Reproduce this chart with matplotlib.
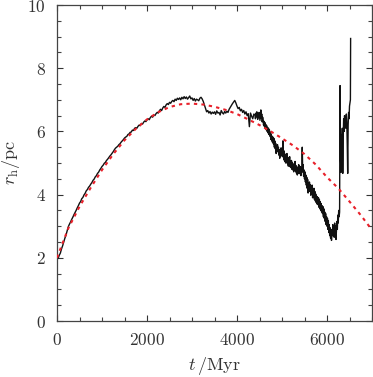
import numpy as np
import matplotlib
matplotlib.use("Agg")
import matplotlib.pyplot as plt
from matplotlib.ticker import MultipleLocator

plt.rcParams['font.family'] = 'serif'
plt.rcParams['font.serif'] = ['cmr10', 'DejaVu Serif']
plt.rcParams['mathtext.fontset'] = 'cm'
plt.rcParams['axes.formatter.use_mathtext'] = True

# ---- data: simulation (black, noisy), every 25 Myr from 0 to 4375 ----
sim_step = 25
sim_r = [
    2.02, 1.98, 2.08, 2.15, 2.28, 2.38, 2.50, 2.62, 2.72, 2.85,
    2.98, 3.06, 3.13, 3.21, 3.28, 3.36, 3.43, 3.50, 3.58, 3.65,
    3.73, 3.78, 3.87, 3.91, 3.99, 4.04, 4.12, 4.16, 4.23, 4.27,
    4.33, 4.38, 4.45, 4.49, 4.56, 4.60, 4.67, 4.71, 4.78, 4.83,
    4.89, 4.93, 4.99, 5.02, 5.08, 5.12, 5.17, 5.22, 5.26, 5.31,
    5.36, 5.42, 5.47, 5.50, 5.53, 5.58, 5.61, 5.66, 5.70, 5.74,
    5.79, 5.82, 5.84, 5.90, 5.92, 5.97, 5.98, 6.04, 6.03, 6.10,
    6.12, 6.10, 6.16, 6.20, 6.18, 6.25, 6.23, 6.29, 6.33, 6.31,
    6.36, 6.40, 6.37, 6.44, 6.48, 6.45, 6.52, 6.50, 6.56, 6.60,
    6.58, 6.65, 6.70, 6.66, 6.74, 6.79, 6.76, 6.84, 6.88, 6.85,
    6.92, 6.89, 6.95, 6.98, 6.94, 7.02, 6.98, 7.05, 7.01, 7.06,
    7.00, 7.08, 7.03, 7.10, 7.04, 7.09, 7.02, 7.07, 7.12, 7.03,
    7.06, 6.98, 7.04, 6.96, 7.02, 7.00, 6.97, 7.05, 7.08, 7.03,
    6.95, 6.84, 6.72, 6.62, 6.66, 6.58, 6.63, 6.55, 6.61, 6.57,
    6.62, 6.54, 6.65, 6.58, 6.60, 6.52, 6.66, 6.59, 6.55, 6.63,
    6.58, 6.64, 6.60, 6.70, 6.76, 6.82, 6.88, 6.93, 6.98, 6.90,
    6.80, 6.72, 6.76, 6.65, 6.70, 6.60, 6.66, 6.55, 6.62, 6.50,
    6.56, 6.15, 6.58, 6.48, 6.40, 6.55,
]
# every 10 Myr from 4400 to 6280 (strongly fluctuating phase)
fine_start = 4400
fine_step = 10
fine_r = [
    6.52, 6.40, 6.58, 6.46, 6.62, 6.50, 6.38, 6.55, 6.44, 6.60,
    6.48, 6.35, 6.52, 6.68, 6.42, 6.55, 6.30, 6.45, 6.36, 6.20,
    6.32, 6.15, 6.28, 6.10, 6.22, 6.05, 6.18, 6.00, 6.12, 5.95,
    6.10, 5.90, 6.05, 5.85, 5.98, 5.75, 5.92, 5.70, 5.85, 5.65,
    5.82, 5.60, 5.78, 5.50, 5.70, 5.45, 5.62, 5.30, 5.55, 5.40,
    5.58, 5.35, 5.50, 5.25, 5.42, 5.15, 5.40, 5.22, 5.48, 5.28,
    5.45, 5.20, 5.70, 5.30, 5.10, 5.38, 5.05, 5.28, 5.00, 5.22,
    5.08, 5.30, 4.98, 5.18, 4.90, 5.12, 4.95, 5.20, 4.88, 5.05,
    4.85, 5.08, 4.80, 5.02, 4.78, 4.95, 4.72, 4.98, 4.82, 5.05,
    4.75, 4.92, 4.68, 4.88, 4.62, 4.85, 4.70, 4.95, 4.66, 4.90,
    4.72, 4.88, 4.60, 4.82, 4.70, 5.50, 4.75, 4.95, 4.58, 4.78,
    4.50, 4.72, 4.40, 4.62, 4.30, 4.55, 4.20, 4.48, 4.05, 4.38,
    4.15, 4.40, 4.10, 4.32, 3.98, 4.25, 4.05, 4.30, 3.90, 4.18,
    3.95, 4.20, 3.85, 4.10, 3.80, 4.02, 3.75, 3.95, 3.70, 3.92,
    3.68, 3.90, 3.60, 3.85, 3.55, 3.78, 3.50, 3.72, 3.45, 3.65,
    3.40, 3.62, 3.30, 3.55, 3.25, 3.45, 3.15, 3.40, 3.05, 3.30,
    3.00, 3.25, 2.90, 3.18, 2.80, 3.05, 2.70, 2.95, 2.62, 2.90,
    2.55, 2.85, 2.70, 3.05, 2.75, 2.95, 2.65, 3.10, 2.80, 3.00,
    2.58, 2.85, 3.15, 2.90, 3.35, 3.10, 3.50, 3.30, 3.45,
]
# final, rapidly fluctuating part (irregular times)
late_t = [6290, 6300, 6310, 6320, 6330, 6340, 6350, 6360, 6370, 6380,
          6390, 6400, 6410, 6420, 6430, 6440, 6450, 6460, 6470, 6480,
          6490, 6500, 6510, 6520, 6525]
late_r = [7.45, 5.20, 4.70, 5.90, 5.30, 6.10, 4.67, 5.80, 6.40, 6.00,
          6.50, 6.20, 6.45, 6.10, 6.55, 6.30, 5.60, 4.67, 6.20, 6.60,
          6.40, 6.80, 6.90, 7.00, 8.94]

# ---- data: model (red dashed) ----
model_t = [0, 250, 500, 750, 1000, 1250, 1500, 1750, 2000, 2250, 2500, 2750,
           3000, 3250, 3500, 3750, 4000, 4250, 4500, 4750, 5000, 5250, 5500,
           5750, 6000, 6250, 6500, 6750, 7000]
model_r = [2.0, 2.93, 3.62, 4.22, 4.78, 5.28, 5.72, 6.08, 6.38, 6.61, 6.77,
           6.86, 6.88, 6.85, 6.78, 6.68, 6.55, 6.38, 6.20, 6.00, 5.78, 5.55,
           5.28, 4.95, 4.55, 4.20, 3.78, 3.35, 2.88]

sim_t = np.arange(len(sim_r)) * sim_step
fine_t = fine_start + np.arange(len(fine_r)) * fine_step
t_all = np.concatenate([sim_t, fine_t, late_t])
r_all = np.concatenate([sim_r, fine_r, late_r])

fig = plt.figure(figsize=(3.73, 3.77), dpi=100)
ax = fig.add_axes([57/373, 1 - 321/377, (372 - 57)/373, (321 - 5)/377])

ax.plot(t_all, r_all, color='#111111', lw=1.0, zorder=2)
ax.plot(model_t, model_r, color='#e8202a', lw=1.5, ls=(0, (1.6, 2.0)), zorder=3)

ax.set_xlim(0, 7000)
ax.set_ylim(0, 10)
ax.xaxis.set_major_locator(MultipleLocator(2000))
ax.xaxis.set_minor_locator(MultipleLocator(500))
ax.yaxis.set_major_locator(MultipleLocator(2))
ax.yaxis.set_minor_locator(MultipleLocator(0.5))
ax.tick_params(which='both', direction='in', top=True, right=True,
               color='#444444', width=0.8)
ax.tick_params(which='major', length=4, labelsize=12.5, colors='#333333')
ax.tick_params(which='minor', length=3)
ax.tick_params(axis='x', which='major', pad=8)
ax.tick_params(axis='y', which='major', pad=8)
for s in ax.spines.values():
    s.set_color('#444444')
    s.set_linewidth(0.9)

ax.set_xlabel(r'$t\,/\mathrm{Myr}$', fontsize=13, color='#333333', labelpad=5)
ax.set_ylabel(r'$r_\mathrm{h}/\mathrm{pc}$', fontsize=13, color='#333333', labelpad=4)

fig.savefig('out.png', dpi=100)
